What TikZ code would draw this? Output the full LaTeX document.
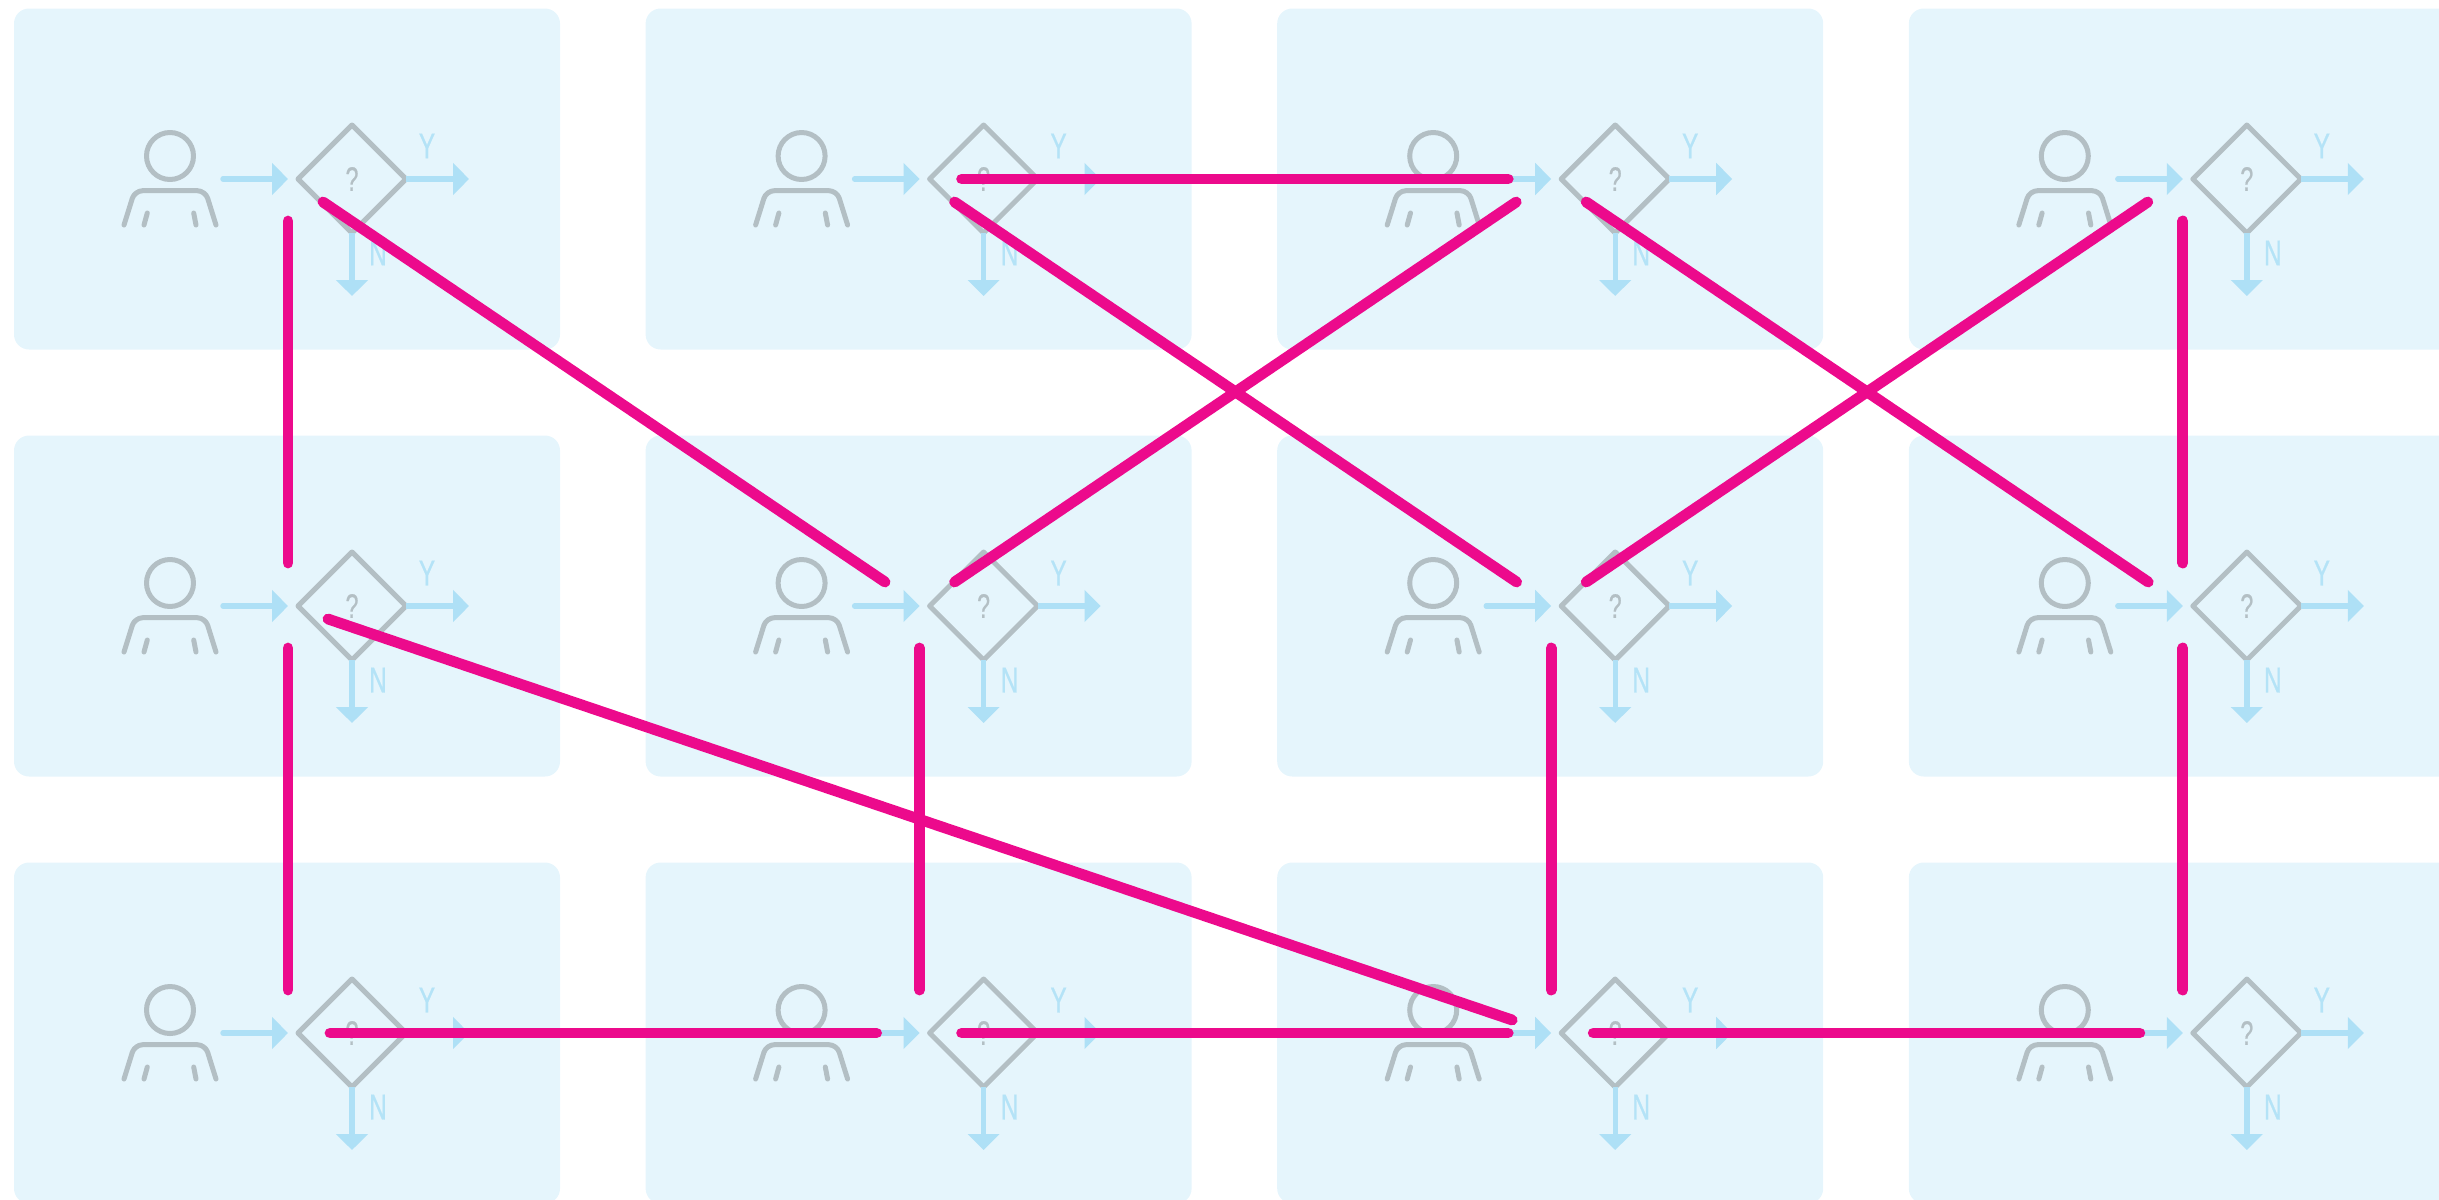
\documentclass[tikz,border=0pt]{standalone}
\usepackage{fontspec}
\usetikzlibrary{arrows.meta}
\usetikzlibrary{shapes.geometric}
\newfontfamily\cellfont[FakeStretch=0.68,FakeBold=0.6]{Liberation Sans}
\definecolor{panel-blue}{HTML}{E5F5FC}
\definecolor{arrow-blue}{HTML}{AEE0F6}
\definecolor{label-blue}{HTML}{B4E3F7}
\definecolor{person-gray}{HTML}{B3BFC4}
\definecolor{flow-pink}{HTML}{EC0A8C}
\tikzset{
  cell-panel/.style={rectangle, fill=panel-blue, rounded corners=7.5pt, minimum width=273pt, minimum height=170.5pt, inner sep=0pt},
  cell-decision/.style={diamond, draw=person-gray, line width=2.5pt, line join=round, aspect=1, minimum width=54pt, minimum height=54pt, inner sep=0pt, outer sep=0pt, text=person-gray, font=\cellfont\fontsize{17pt}{17pt}\selectfont},
  cell-person/.style={draw=person-gray, line width=2.5pt, line cap=round, line join=round},
  cell-arrow/.style={draw=arrow-blue, line width=2.7pt, line cap=round, -{Triangle[length=8pt,width=15.6pt,fill=arrow-blue]}},
  cell-label/.style={text=label-blue, inner sep=0pt, font=\cellfont\fontsize{18pt}{18pt}\selectfont},
  flow-path/.style={draw=flow-pink, line width=5.4pt, line cap=round},
}
\newcommand{\tikzcell}[2]{%
\pgfmathsetmacro{\cellx}{352+631.6*#2}
\pgfmathsetmacro{\celly}{179+427*#1}
\node[cell-panel] (panel-#1-#2) at (\cellx-65,\celly) {};
\node[cell-decision] (decision-#1-#2) at (\cellx,\celly) {?};
\begin{scope}[shift={(decision-#1-#2.center)}]
% person
\node[cell-person, circle, minimum size=23.5pt, inner sep=0pt] (head-#1-#2) at (-182,-23) {};
\draw[cell-person, rounded corners=4pt] (-228,46) -- (-217.3,11.7) -- (-146.7,11.7) -- (-136,46);
\draw[cell-person] (-208,46) -- (-204.7,34);
\draw[cell-person] (-156,46) -- (-158.3,34);
% arrows
\coordinate (tip-#1-#2) at (-64,0);
\coordinate (tail-#1-#2) at (-129,0);
\coordinate (yes-#1-#2) at (117,0);
\coordinate (no-#1-#2) at (0,117);
\draw[cell-arrow] (tail-#1-#2) -- (tip-#1-#2);
\draw[cell-arrow, line cap=butt] (decision-#1-#2.east) -- (yes-#1-#2);
\draw[cell-arrow, line cap=butt] (decision-#1-#2.south) -- (no-#1-#2);
\node[cell-label] (y-#1-#2) at (75,-33) {Y};
\node[cell-label] (n-#1-#2) at (26,74) {N};
% flow ends
\coordinate (up-#1-#2) at (-64,-43);
\coordinate (down-#1-#2) at (-64,42);
\coordinate (se-#1-#2) at (-29,23);
\coordinate (nw-#1-#2) at (-98.6,-24);
\coordinate (ne-#1-#2) at (-29,-24);
\coordinate (sw-#1-#2) at (-99,23);
\coordinate (start-#1-#2) at (-22,0);
\coordinate (end-#1-#2) at (-107,0);
\coordinate (out-#1-#2) at (-24,13);
\coordinate (in-#1-#2) at (-103,-13);
\end{scope}
}

\begin{document}
\begin{tikzpicture}[x=0.5pt, y=-0.5pt]
\clip (0,0) rectangle (2439,1199);
\foreach \row in {0,1,2} {
  \foreach \col in {0,...,3} {
    \tikzcell{\row}{\col}
  }
}
% flow lines
\foreach \from/\to in {down-0-0/up-1-0, down-1-0/up-2-0, down-1-1/up-2-1, down-1-2/up-2-2, down-0-3/up-1-3, down-1-3/up-2-3,
  se-0-0/nw-1-1, se-0-1/nw-1-2, se-0-2/nw-1-3, ne-1-1/sw-0-2, ne-1-2/sw-0-3, out-1-0/in-2-2,
  start-0-1/end-0-2, start-2-0/end-2-1, start-2-1/end-2-2, start-2-2/end-2-3} {
  \draw[flow-path] (\from) -- (\to);
}
\end{tikzpicture}
\end{document}
